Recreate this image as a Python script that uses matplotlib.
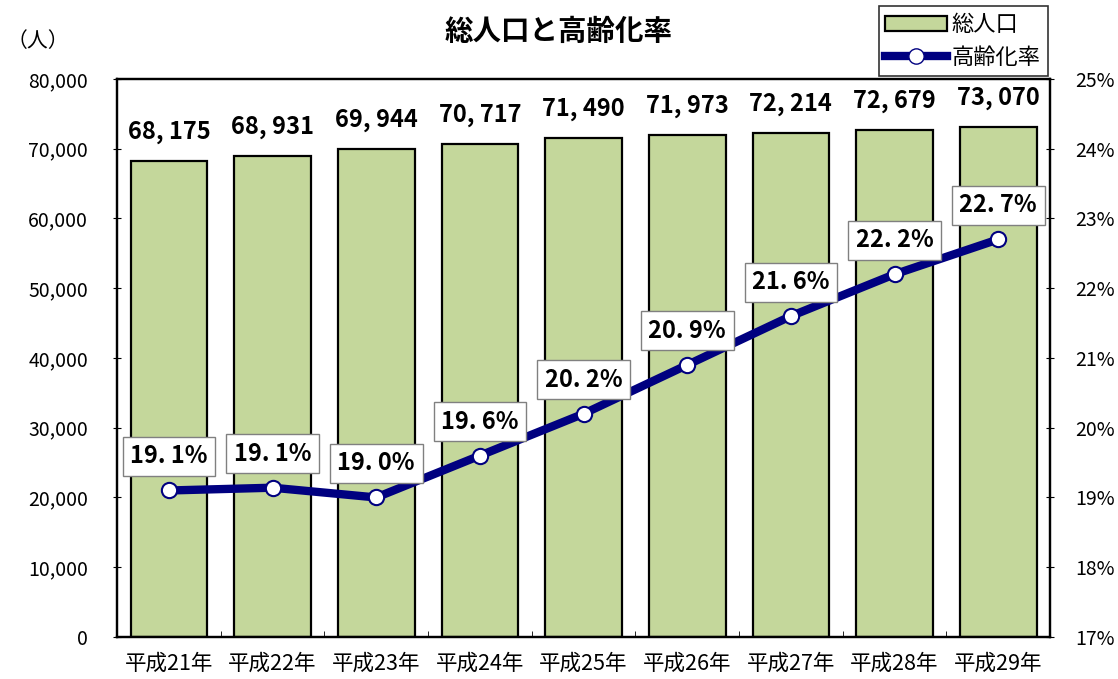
import matplotlib
matplotlib.use("Agg")
import matplotlib.pyplot as plt
from matplotlib.lines import Line2D
from matplotlib.patches import Patch
import numpy as np

plt.rcParams['font.family'] = ['Noto Sans CJK JP', 'DejaVu Sans']

years = ["平成21年", "平成22年", "平成23年", "平成24年", "平成25年",
         "平成26年", "平成27年", "平成28年", "平成29年"]
population = [68175, 68931, 69944, 70717, 71490, 71973, 72214, 72679, 73070]
aging_rate = [19.1, 19.14, 19.0, 19.6, 20.2, 20.9, 21.6, 22.2, 22.7]

fig = plt.figure(figsize=(11.18, 6.79), dpi=100)
ax = fig.add_axes([0.1047, 0.0619, 0.8345, 0.8218])
x = np.arange(len(years))

ax.bar(x, population, width=0.74, color="#c4d79b", edgecolor="black",
       linewidth=1.6, zorder=2)
ax.set_xlim(-0.5, len(years) - 0.5)
ax.set_ylim(0, 80000)
ax.set_yticks(range(0, 80001, 10000))
ax.set_yticklabels([f"{v:,}" for v in range(0, 80001, 10000)])
ax.set_xticks(x)
ax.set_xticklabels(years, fontsize=15.5)
ax.set_xticks(np.arange(0.5, len(years) - 1, 1), minor=True)
ax.tick_params(axis='x', which='major', length=0, pad=11)
ax.tick_params(axis='x', which='minor', length=4, direction='in')
ax.tick_params(axis='y', labelsize=14, length=6, direction='inout', pad=18)
for s in ax.spines.values():
    s.set_linewidth(1.6)

for xi, p in zip(x, population):
    ax.annotate(f"{p:,}".replace(",", ", "), (xi, p), xytext=(0, 21),
                textcoords="offset points", ha="center", va="center",
                fontsize=17, fontweight="bold")

ax2 = ax.twinx()
ax2.set_ylim(17, 25)
ax2.set_yticks(range(17, 26))
ax2.set_yticklabels([f"{v}%" for v in range(17, 26)])
ax2.tick_params(axis='y', labelsize=14, length=6, direction='inout', pad=15)
ax2.plot(x, aging_rate, color="#000080", linewidth=6, marker="o",
         markersize=11, markerfacecolor="white", markeredgecolor="#000080",
         markeredgewidth=1.5, zorder=3)
for s in ax2.spines.values():
    s.set_linewidth(1.6)

for xi, r in zip(x, aging_rate):
    ax2.annotate(f"{r:.1f}%".replace(".", ". "), (xi, r), xytext=(0, 24.5),
                 textcoords="offset points", ha="center", va="center",
                 fontsize=17, fontweight="bold",
                 bbox=dict(boxstyle="square,pad=0.32", fc="white",
                           ec="#808080", lw=1))

fig.text(0.006, 0.94, "（人）", fontsize=15, ha="left", va="center")
fig.text(0.5, 0.953, "総人口と高齢化率", fontsize=20.5, fontweight="bold",
         ha="center", va="center")

handles = [Patch(facecolor="#c4d79b", edgecolor="black", linewidth=1.6),
           Line2D([0], [0], color="#000080", linewidth=6, marker="o",
                  markersize=11, markerfacecolor="white",
                  markeredgecolor="#000080")]
leg = fig.legend(handles, ["総人口", "高齢化率"], loc="upper right",
                 bbox_to_anchor=(0.941, 0.997), fontsize=16, frameon=True,
                 fancybox=False, edgecolor="black", handlelength=2.8,
                 borderpad=0.3, labelspacing=0.45, handletextpad=0.2,
                 borderaxespad=0.2)
leg.get_frame().set_linewidth(1.2)

fig.savefig("out.png", dpi=100)
